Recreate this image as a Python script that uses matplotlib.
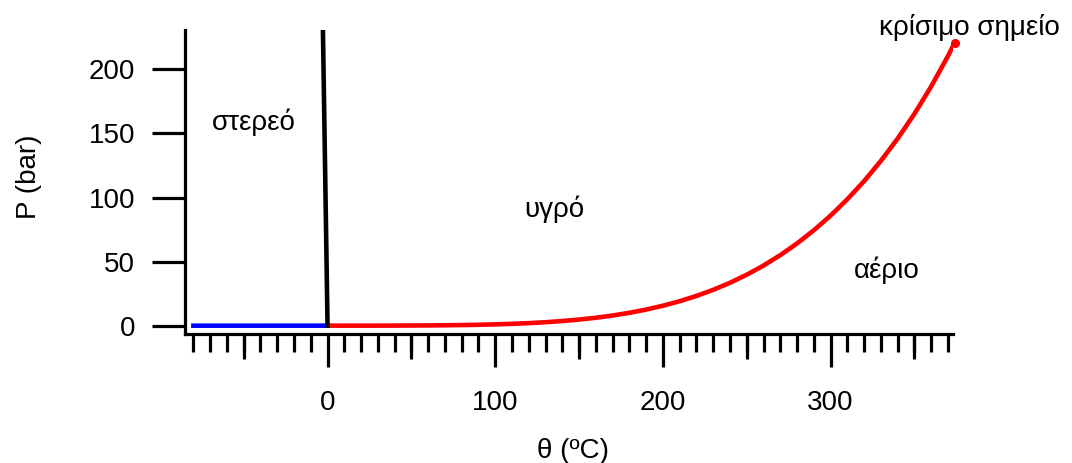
import numpy as np
import matplotlib.pyplot as plt

plt.rcParams['font.family'] = ['Liberation Sans', 'DejaVu Sans']

# vapour pressure curve (liquid - gas), degC / bar
t_vap = [0.01, 10, 20, 30, 40, 50, 60, 70, 80, 90, 100, 110, 120, 130, 140,
         150, 160, 170, 180, 190, 200, 210, 220, 230, 240, 250, 260, 270,
         280, 290, 300, 310, 320, 330, 340, 350, 360, 370, 373.95]
p_vap = [0.0061, 0.0123, 0.0234, 0.0425, 0.0738, 0.1235, 0.1995, 0.312,
         0.474, 0.702, 1.014, 1.434, 1.987, 2.703, 3.615, 4.762, 6.182,
         7.922, 10.03, 12.55, 15.55, 19.08, 23.20, 27.97, 33.47, 39.76,
         46.92, 55.03, 64.17, 74.42, 85.88, 98.65, 112.8, 128.6, 146.0,
         165.3, 186.7, 210.4, 220.6]

# sublimation curve (solid - gas)
t_sub = [-80, -60, -40, -20, 0.01]
p_sub = [0.00000055, 0.0000108, 0.000129, 0.00103, 0.0061]

# melting curve (solid - liquid)
t_melt = [0.01, -2.8]
p_melt = [0.0061, 235]

# critical point
t_crit, p_crit = 373.95, 220.6

fig = plt.figure(figsize=(10.72, 4.63), dpi=100)
ax = fig.add_axes([185 / 1072, 129 / 463, 768 / 1072, 304 / 463])

ax.plot(t_sub, p_sub, color='#0000ff', lw=3.3)
ax.plot(t_vap, p_vap, color='#ff0000', lw=3.3, solid_capstyle='butt')
ax.plot(t_melt, p_melt, color='black', lw=3.3)
ax.plot([t_crit], [p_crit], 'o', color='#ff0000', ms=5.5, clip_on=False)

ax.set_xlim(-85, 373)
ax.set_ylim(-6.5, 230.7)

for s in ['top', 'right']:
    ax.spines[s].set_visible(False)
for s in ['left', 'bottom']:
    ax.spines[s].set_linewidth(2.3)

ax.set_xticks([0, 100, 200, 300])
ax.set_xticks(np.arange(-80, 371, 10), minor=True)
ax.set_yticks([0, 50, 100, 150, 200])
ax.tick_params(axis='x', which='major', length=24, width=2.3, labelsize=20, pad=16)
ax.tick_params(axis='x', which='minor', length=13, width=2.3)
ax.tick_params(axis='y', which='major', length=24, width=2.3, labelsize=20, pad=12)

# intermediate ticks every 50
sec = ax.secondary_xaxis('bottom')
sec.set_xticks([-50, 50, 150, 250, 350])
sec.set_xticklabels([])
sec.tick_params(length=18, width=2.3)
sec.spines['bottom'].set_visible(False)

ax.set_xlabel('θ (ºC)', fontsize=20)
ax.xaxis.set_label_coords(0.505, -0.342)
ax.set_ylabel('P (bar)', fontsize=20)
ax.yaxis.set_label_coords(-0.186, 0.516)

ax.text(-44, 152.7, 'στερεό', fontsize=20, ha='center', va='baseline')
ax.text(135.5, 84.8, 'υγρό', fontsize=20, ha='center', va='baseline')
ax.text(333.7, 37.2, 'αέριο', fontsize=20, ha='center', va='baseline')
ax.text(383, 226.7, 'κρίσιμο σημείο', fontsize=20, ha='center', va='baseline')

fig.savefig('out.png', dpi=100)
